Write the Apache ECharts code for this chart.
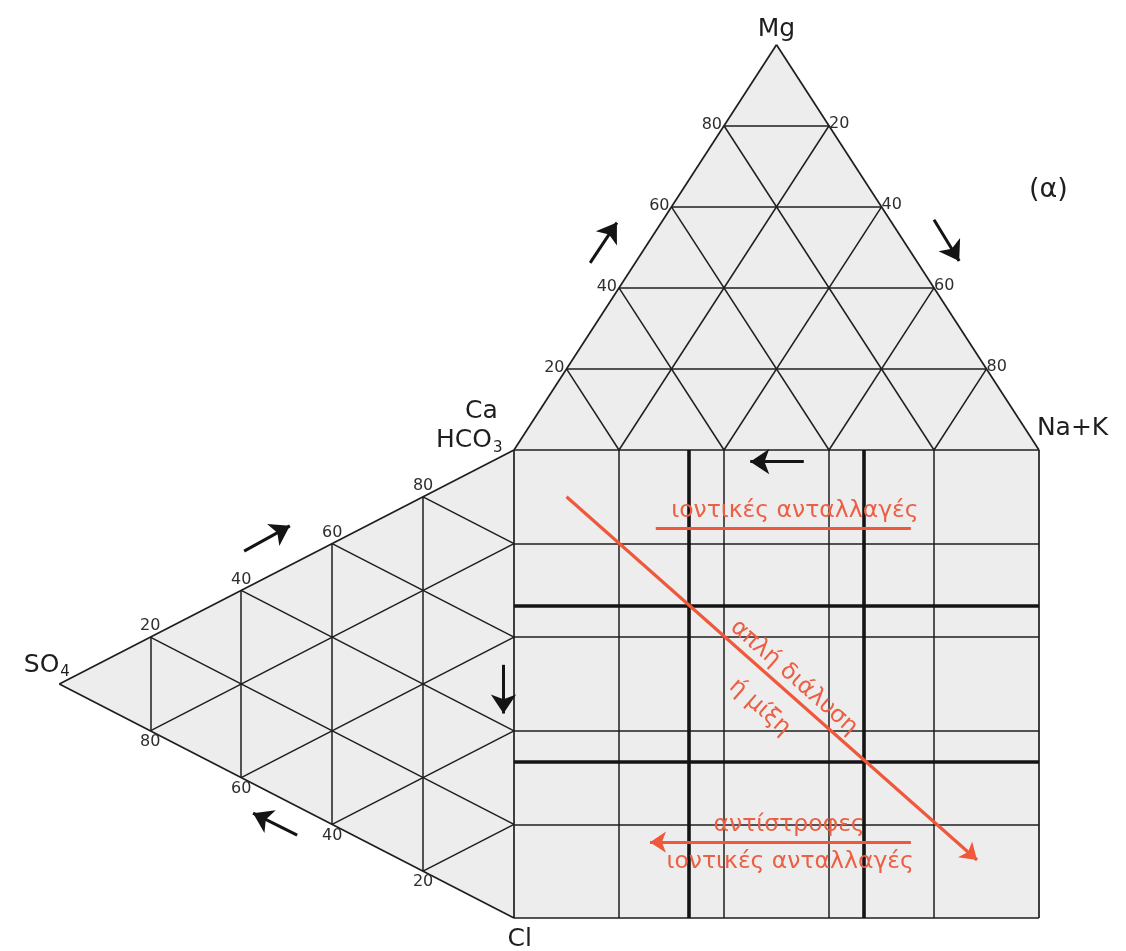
<!DOCTYPE html>
<html><head><meta charset="utf-8">
<script src="https://cdn.jsdelivr.net/npm/echarts@6/dist/echarts.min.js"></script>
<style>html,body{margin:0;padding:0;background:#fff}#c{width:1126px;height:951px}</style>
</head><body><div id="c"></div>
<script>
// ---- data ----
const ticks = [20, 40, 60, 80];                 // ternary grid steps (%)
const thickTicks = [100 / 3, 200 / 3];          // heavy division lines in the square (%)
const topLeftLabels = ['20', '40', '60', '80']; // Mg along left edge of cation triangle
const topRightLabels = ['20', '40', '60', '80'];// Na+K along right edge of cation triangle
const leftUpperLabels = ['20', '40', '60', '80'];// HCO3 along upper edge of anion triangle
const leftLowerLabels = ['80', '60', '40', '20'];// SO4 along lower edge of anion triangle
const vertexNames = { mg: 'Mg', nak: 'Na+K', ca: 'Ca', hco3: 'HCO3', so4: 'SO4', cl: 'Cl' };
const panelTag = '(α)';
// annotation paths (diagram percent coordinates)
const mixingArrow = [[10, 90], [88.2, 12.4]];
const exchangeLine = [[27, 83.3], [75.6, 83.3]];
const reverseArrow = [[75.6, 16.2], [25.9, 16.2]];
const blackArrows = [
  [[14.5, 140.0], [19.6, 148.6]],
  [[80.0, 149.2], [84.8, 140.4]],
  [[55.2, 97.5], [45.0, 97.5]],
  [[-51.4, 78.4], [-42.7, 83.8]],
  [[-41.3, 17.7], [-49.7, 22.4]],
  [[-2.0, 54.1], [-2.0, 43.7]]
];
const redTexts = [
  { name: 'ιοντικές ανταλλαγές', value: [53.5, 86.9], rot: 0 },
  { name: 'αντίστροφες', value: [52.4, 19.9], rot: 0 },
  { name: 'ιοντικές ανταλλαγές', value: [52.6, 12.0], rot: 0 },
  { name: 'απλή διάλυση', value: [53.3, 51.4], rot: -41.4 },
  { name: 'ή μίξη', value: [46.8, 45.0], rot: -41.4 }
];

// ---- geometry helpers ----
const H = 50 * Math.sqrt(3);
const lerp = (p, q, t) => [p[0] + (q[0] - p[0]) * t, p[1] + (q[1] - p[1]) * t];
const TL = [0, 100], TR = [100, 100], TT = [50, 100 + H];
const LB = [0, 100], LC = [0, 0], LA = [-H, 50];
const SQ = [[0, 0], [100, 0], [100, 100], [0, 100]];

const thin = [];
ticks.forEach(t => {
  const f = t / 100;
  thin.push([lerp(TL, TT, f), lerp(TR, TT, f)]);
  thin.push([lerp(TL, TR, f), lerp(TT, TR, f)]);
  thin.push([lerp(TR, TL, f), lerp(TT, TL, f)]);
  thin.push([lerp(LB, LA, f), lerp(LC, LA, f)]);
  thin.push([lerp(LA, LB, f), lerp(LC, LB, f)]);
  thin.push([lerp(LA, LC, f), lerp(LB, LC, f)]);
  thin.push([[t, 0], [t, 100]]);
  thin.push([[0, t], [100, t]]);
});
const outline = [
  [TL, TT], [TT, TR], [TL, TR],
  [LA, LB], [LA, LC], [LB, LC],
  [[0, 0], [100, 0]], [[100, 0], [100, 100]]
];
const thick = [];
thickTicks.forEach(t => { thick.push([[t, 0], [t, 100]]); thick.push([[0, t], [100, t]]); });

const numFont = { fontFamily: 'DejaVu Sans', fontSize: 16, color: '#2e2e2e' };
const labelItems = [];
ticks.forEach((t, i) => {
  const f = t / 100;
  labelItems.push({ value: lerp(TL, TT, f), name: topLeftLabels[i], label: { position: 'left', distance: 2, offset: [0, -1] } });
  labelItems.push({ value: lerp(TT, TR, f), name: topRightLabels[i], label: { position: 'right', distance: 0, offset: [0, -2] } });
  labelItems.push({ value: lerp(LA, LB, f), name: leftUpperLabels[i], label: { position: 'top', distance: 3 } });
  labelItems.push({ value: lerp(LA, LC, f), name: leftLowerLabels[i], label: { position: 'bottom', distance: 3 } });
});

const big = { fontFamily: 'DejaVu Sans', fontSize: 25, color: '#1e1e1e' };
const nameItems = [
  { value: [50, 189.8], name: vertexNames.mg, label: { position: 'inside' } },
  { value: [99.6, 104.7], name: vertexNames.nak, label: { position: 'inside', align: 'left' } },
  { value: [-3.1, 108.3], name: vertexNames.ca, label: { position: 'inside', align: 'right' } },
  { value: [-2.2, 102.0], name: vertexNames.hco3, label: { position: 'inside', align: 'right', formatter: '{a|HCO}{s|3}' } },
  { value: [-84.6, 54.0], name: vertexNames.so4, label: { position: 'inside', align: 'right', formatter: '{a|SO}{s|4}' } },
  { value: [1.1, -4.6], name: vertexNames.cl, label: { position: 'inside' } },
  { value: [101.8, 155.6], name: panelTag, label: { position: 'inside', fontSize: 27 } }
];

const chart = echarts.init(document.getElementById('c'), null, { renderer: 'canvas' });
const seg = (arr) => arr.map(s => ({ coords: s }));
const solid = { opacity: 1 };
chart.setOption({
  animation: false,
  backgroundColor: '#ffffff',
  grid: { left: 41.5, width: 1050, top: 5.4, height: 936 },
  xAxis: { type: 'value', min: -90, max: 110, show: false },
  yAxis: { type: 'value', min: -5, max: 195, show: false },
  series: [
    {
      type: 'custom', coordinateSystem: 'cartesian2d', clip: false, silent: true, z: 1,
      data: [[0, 0], [0, 0], [0, 0]],
      renderItem: (params, api) => {
        const shapes = [[TL, TR, TT], [LA, LB, LC], SQ];
        const pts = shapes[params.dataIndex].map(p => api.coord(p));
        return { type: 'polygon', shape: { points: pts }, style: { fill: '#ededed' } };
      }
    },
    { type: 'lines', coordinateSystem: 'cartesian2d', silent: true, z: 2, data: seg(thin),
      lineStyle: { color: '#1e1e1e', width: 1.5, opacity: 1 } },
    { type: 'lines', coordinateSystem: 'cartesian2d', silent: true, z: 3, data: seg(outline),
      lineStyle: { color: '#1e1e1e', width: 1.7, opacity: 1 } },
    { type: 'lines', coordinateSystem: 'cartesian2d', silent: true, z: 3, data: seg(thick),
      lineStyle: { color: '#141414', width: 3.6, opacity: 1 } },
    { type: 'lines', coordinateSystem: 'cartesian2d', silent: true, z: 4, data: seg(blackArrows),
      symbol: ['none', 'arrow'], symbolSize: [15, 19],
      lineStyle: { color: '#141414', width: 3, opacity: 1 } },
    { type: 'lines', coordinateSystem: 'cartesian2d', silent: true, z: 5,
      data: seg([mixingArrow, reverseArrow]),
      symbol: ['none', 'arrow'], symbolSize: [11, 16],
      lineStyle: { color: '#f0583c', width: 3.2, opacity: 1 } },
    { type: 'lines', coordinateSystem: 'cartesian2d', silent: true, z: 5,
      data: seg([exchangeLine]),
      lineStyle: { color: '#f0583c', width: 3.2, opacity: 1 } },
    {
      type: 'scatter', symbolSize: 0, silent: true, z: 6, clip: false, itemStyle: solid,
      data: redTexts.map(d => ({ name: d.name, value: d.value, label: { rotate: d.rot } })),
      label: { show: true, position: 'inside', formatter: '{b}', fontFamily: 'DejaVu Sans', fontSize: 23.5, color: '#ec5f45' }
    },
    {
      type: 'scatter', symbolSize: 0, silent: true, z: 6, clip: false, data: labelItems, itemStyle: solid,
      label: Object.assign({ show: true, formatter: '{b}' }, numFont)
    },
    {
      type: 'scatter', symbolSize: 0, silent: true, z: 6, clip: false, data: nameItems, itemStyle: solid,
      label: Object.assign({ show: true, formatter: '{b}',
        rich: { a: { fontFamily: 'DejaVu Sans', fontSize: 25, color: '#1e1e1e' },
                s: { fontFamily: 'DejaVu Sans', fontSize: 15, color: '#1e1e1e', padding: [14, 0, 0, 1] } } }, big)
    }
  ]
});
</script></body></html>
